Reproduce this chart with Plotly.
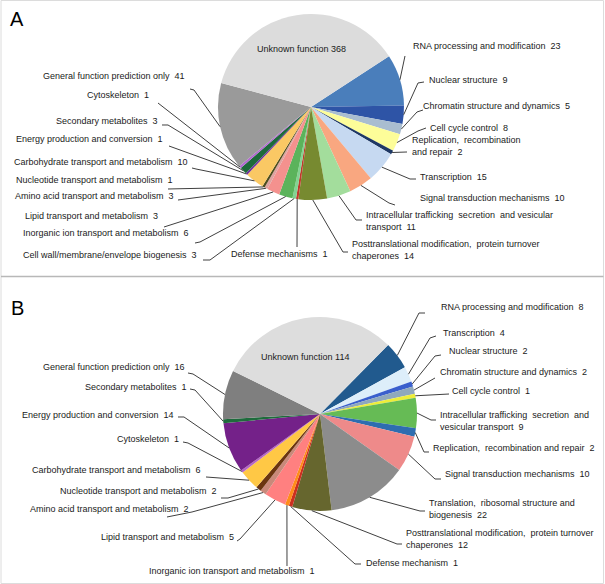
import math
import plotly.graph_objects as go

W, H = 605, 584

# ---------------- Panel A data (clockwise from "RNA processing") ----------------
a_categories = [
    "RNA processing and modification", "Nuclear structure", "Chromatin structure and dynamics",
    "Cell cycle control", "Replication, recombination and repair", "Transcription",
    "Signal transduction mechanisms", "Intracellular trafficking secretion and vesicular transport",
    "Posttranslational modification, protein turnover chaperones", "Defense mechanisms",
    "Cell wall/membrane/envelope biogenesis", "Inorganic ion transport and metabolism",
    "Lipid transport and metabolism", "Amino acid transport and metabolism",
    "Nucleotide transport and metabolism", "Carbohydrate transport and metabolism",
    "Energy production and conversion", "Secondary metabolites", "Cytoskeleton",
    "General function prediction only", "Unknown function",
]
a_counts = [23, 9, 5, 8, 2, 15, 10, 11, 14, 1, 3, 6, 3, 3, 1, 10, 1, 3, 1, 41, 368]
# slice sizes as drawn in the reference picture (degrees of arc)
a_slice_size = [32, 11.5, 6.5, 11, 2.6, 19.4, 15, 15, 17.8, 1.5, 2.2, 8.5, 8, 2, 1.5,
                11.8, 1.2, 4.5, 1.5, 54.5, 132]
a_label_text = [
    "RNA processing and modification", "Nuclear structure", "Chromatin structure and dynamics",
    "Cell cycle control", "Replication,  recombination<br>and repair", "Transcription",
    "Signal transduction mechanisms", "Intracellular trafficking  secretion  and vesicular<br>transport",
    "Posttranslational modification,  protein turnover<br>chaperones", "Defense mechanisms",
    "Cell wall/membrane/envelope biogenesis", "Inorganic ion transport and metabolism",
    "Lipid transport and metabolism", "Amino acid transport and metabolism",
    "Nucleotide transport and metabolism", "Carbohydrate transport and metabolism",
    "Energy production and conversion", "Secondary metabolites", "Cytoskeleton",
    "General function prediction only", "Unknown function",
]

# ---------------- Panel B data (clockwise from "RNA processing") ----------------
b_categories = [
    "RNA processing and modification", "Transcription", "Nuclear structure",
    "Chromatin structure and dynamics", "Cell cycle control",
    "Intracellular trafficking secretion and vesicular transport",
    "Replication, recombination and repair", "Signal transduction mechanisms",
    "Translation, ribosomal structure and biogenesis",
    "Posttranslational modification, protein turnover chaperones", "Defense mechanism",
    "Inorganic ion transport and metabolism", "Lipid transport and metabolism",
    "Amino acid transport and metabolism", "Nucleotide transport and metabolism",
    "Carbohydrate transport and metabolism", "Cytoskeleton", "Energy production and conversion",
    "Secondary metabolites", "General function prediction only", "Unknown function",
]
b_counts = [8, 4, 2, 2, 1, 9, 2, 10, 22, 12, 1, 1, 5, 2, 2, 6, 1, 14, 1, 16, 114]
b_slice_size = [16.5, 9.3, 3.1, 4.4, 2.5, 18, 5.1, 21.7, 47.8, 23.5, 2.1, 2.4, 13, 3.6, 3.2,
                12, 1.5, 30, 2.4, 29.4, 108.2]
b_label_text = [
    "RNA processing and modification", "Transcription", "Nuclear structure",
    "Chromatin structure and dynamics", "Cell cycle control",
    "Intracellular trafficking  secretion  and<br>vesicular transport",
    "Replication,  recombination and repair", "Signal transduction mechanisms",
    "Translation,  ribosomal structure and<br>biogenesis",
    "Posttranslational modification,  protein turnover<br>chaperones", "Defense mechanism",
    "Inorganic ion transport and metabolism", "Lipid transport and metabolism",
    "Amino acid transport and metabolism", "Nucleotide transport and metabolism",
    "Carbohydrate transport and metabolism", "Cytoskeleton", "Energy production and conversion",
    "Secondary metabolites", "General function prediction only", "Unknown function",
]

# ---------------- styles ----------------
a_colors = ["#4a7ebb", "#2e54a6", "#a9bdd0", "#fdfd99", "#1f3864", "#c6d9f1", "#f9a780",
            "#a3dd9c", "#778a30", "#c0392b", "#82d392", "#5bb35b", "#f4918e", "#dfa3a0",
            "#4d4d1f", "#fac864", "#7030a0", "#1d6a3a", "#b36ad1", "#9a9a9a", "#dcdcdc"]
b_colors = ["#215a8e", "#ddeefa", "#3a5fcd", "#8fa8bd", "#eded3a", "#66bb55", "#2e6db0",
            "#ee8a8a", "#8c8c8c", "#66662e", "#cc2f1f", "#ff8c1a", "#ff8080", "#c9897a",
            "#6b3510", "#ffc845", "#b565c5", "#742189", "#1e6b3c", "#7f7f7f", "#dddddd"]

# geometry (pixels): pie centre, radius, start angle (compass degrees, clockwise)
A_CX, A_CY, A_R, A_ROT = 311, 107, 93, 57
B_CX, B_CY, B_R, B_ROT = 320, 414, 97, 44.6

# label placement: (x, y, anchor, leader waypoints from label towards slice)
a_place = [
    (411, 46, "left", [(405, 56)]),
    (427, 80, "left", [(424, 82), (418, 83)]),
    (421, 106, "left", [(423, 110), (417, 112)]),
    (428, 128, "left", [(426, 128), (418, 131)]),
    (410, 145.5, "left", [(407, 152)]),
    (418, 177, "left", [(416, 179), (410, 179)]),
    (418, 198, "left", [(395, 205), (389, 203)]),
    (364, 221, "left", [(362, 220), (356, 220)]),
    (350, 250, "left", [(348, 252), (343, 252)]),
    (229, 254, "left", [(297, 247)]),
    (199, 255, "right", [(203, 260), (210, 260)]),
    (191, 233, "right", [(195, 243), (200, 242)]),
    (159.5, 216, "right", [(164, 227)]),
    (176, 196, "right", [(178, 200)]),
    (175, 180, "right", [(168, 189)]),
    (190, 162, "right", [(192, 168), (196, 169)]),
    (165, 139, "right", [(169, 146)]),
    (160, 121, "right", [(162, 125), (168, 125)]),
    (151, 95, "right", [(158, 103)]),
    (187, 76, "right", [(190, 89), (194, 90)]),
    (301, 49, "center", []),
]
b_place = [
    (439, 307, "left", [(425, 313), (419, 313)]),
    (441, 333, "left", [(436, 336), (430, 338)]),
    (447, 351, "left", [(441, 355), (435, 356)]),
    (438, 372, "left", [(435, 378), (428, 382)]),
    (450, 391, "left", [(449, 394)]),
    (438, 421, "left", [(436, 420), (431, 420)]),
    (431, 448, "left", [(429, 452), (424, 452)]),
    (443, 474, "left", [(441, 479), (435, 479)]),
    (427, 508.5, "left", [(425, 511), (420, 511)]),
    (403.5, 539, "left", [(402, 544), (397, 544)]),
    (364, 563, "left", [(361, 564), (355, 564)]),
    (317, 571, "right", [(287, 566)]),
    (236, 537, "right", [(237, 541), (240, 539)]),
    (191, 509, "right", [(167, 517), (192, 512)]),
    (219, 491, "right", [(221, 498), (228, 498)]),
    (203, 470, "right", [(206, 477)]),
    (181, 439, "right", [(183, 442), (188, 443)]),
    (176, 414.5, "right", [(178, 417), (184, 417)]),
    (189, 387, "right", [(190, 389), (195, 390)]),
    (187, 366.5, "right", [(188, 373), (193, 374)]),
    (305, 357, "center", []),
]

FONT = "Liberation Sans, Arial, sans-serif"
TXT = "#1a1a1a"
LINE = "#404040"


def px(x):
    return x / W


def py(y):
    return 1 - y / H


def rim_point(values, idx, rot, cx, cy, r):
    total = sum(values)
    start = rot + sum(values[:idx]) / total * 360
    mid = math.radians(start + values[idx] / total * 180)
    return cx + r * math.sin(mid), cy - r * math.cos(mid)


fig = go.Figure()
shapes = []
annotations = []


def add_panel(cats, counts, sizes, texts, colors, place, cx, cy, r, rot):
    fig.add_trace(go.Pie(
        labels=cats, values=sizes, customdata=counts, sort=False, direction="clockwise",
        rotation=rot, marker=dict(colors=colors, line=dict(width=0)),
        textinfo="none", hovertemplate="%{label}: %{customdata}<extra></extra>",
        showlegend=False,
        domain=dict(x=[px(cx - r), px(cx + r)], y=[py(cy + r), py(cy - r)]),
    ))
    for i, (name, cnt) in enumerate(zip(texts, counts)):
        x, y, anchor, way = place[i]
        if anchor == "center":
            txt = f"{name} {cnt}"
        else:
            txt = f"{name}\u00a0 {cnt}"
        annotations.append(dict(
            x=px(x), y=py(y), xref="paper", yref="paper", text=txt, showarrow=False,
            xanchor=anchor, yanchor="middle", align="left",
            font=dict(family=FONT, size=9, color=TXT),
        ))
        if way:
            ex, ey = rim_point(sizes, i, rot, cx, cy, r)
            pts = list(way) + [(ex, ey)]
            path = "M " + " L ".join(f"{px(a):.5f},{py(b):.5f}" for a, b in pts)
            shapes.append(dict(type="path", path=path, xref="paper", yref="paper",
                               line=dict(color=LINE, width=1)))


add_panel(a_categories, a_counts, a_slice_size, a_label_text, a_colors, a_place,
          A_CX, A_CY, A_R, A_ROT)
add_panel(b_categories, b_counts, b_slice_size, b_label_text, b_colors, b_place,
          B_CX, B_CY, B_R, B_ROT)

# panel frames
shapes.append(dict(type="rect", xref="paper", yref="paper", x0=px(1), x1=px(603.5),
                   y0=py(583.5), y1=py(0.5), line=dict(color="#dcdcdc", width=1)))
shapes.append(dict(type="line", xref="paper", yref="paper", x0=px(1), x1=px(603.5),
                   y0=py(276.5), y1=py(276.5), line=dict(color="#b8b8b8", width=1.5)))

for letter, (x, y) in (("A", (17, 19)), ("B", (17, 308))):
    annotations.append(dict(x=px(x), y=py(y), xref="paper", yref="paper", text=letter,
                            showarrow=False, xanchor="center", yanchor="middle",
                            font=dict(family=FONT, size=20, color="#000000")))

fig.update_layout(
    width=W, height=H, margin=dict(l=0, r=0, t=0, b=0),
    paper_bgcolor="white", plot_bgcolor="white",
    shapes=shapes, annotations=annotations,
)

fig.write_html("out.html", config={"displayModeBar": False},
               post_script="document.body.style.margin='0px';")
